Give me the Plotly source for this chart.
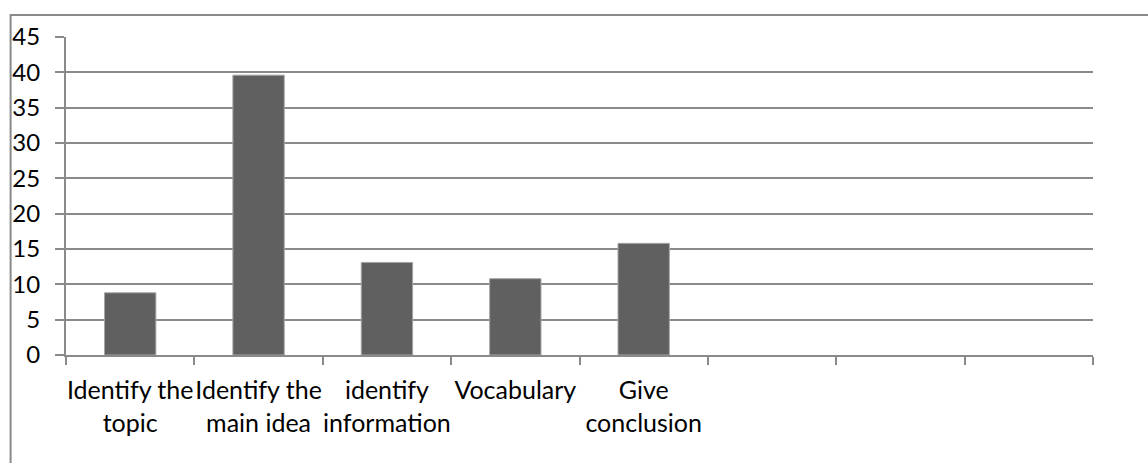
import plotly.graph_objects as go

# Skill categories (the last three slots are empty on the axis)
categories = ["Identify the<br>topic", "Identify the<br>main idea", "identify<br>information",
              "Vocabulary", "Give<br>conclusion", " ", "  ", "   "]
scores = [8.8, 39.6, 13.1, 10.8, 15.8, None, None, None]
y_ticks = [0, 5, 10, 15, 20, 25, 30, 35, 40, 45]

W, H = 1148, 463
L, R, T, B = 64, 55, 36.5, 107.5
pw, ph = W - L - R, H - T - B

grid = "#8a8a8a"
font = dict(family="Lato, Carlito, Calibri, sans-serif", size=24, color="#000000")

fig = go.Figure(go.Bar(
    x=categories, y=scores, width=0.4,
    marker=dict(color="#606060", line=dict(color="#a6a6a6", width=1)),
))

# Outer chart-area frame (runs past the right and bottom edges of the page)
def px_to_paper(x, y):
    return (x - L) / pw, (H - B - y) / ph

x0, y0 = px_to_paper(8.5, 14.5)
x1, y1 = px_to_paper(W + 10, H + 10)
fig.add_shape(type="rect", xref="paper", yref="paper", x0=x0, y0=y1, x1=x1, y1=y0,
              line=dict(color=grid, width=2), fillcolor="rgba(0,0,0,0)", layer="below")

fig.update_layout(
    width=W, height=H,
    margin=dict(l=L, r=R, t=T, b=B, pad=0),
    paper_bgcolor="white", plot_bgcolor="white",
    font=font, showlegend=False, bargap=0.6,
    xaxis=dict(type="category", categoryorder="array", categoryarray=categories,
               range=[-0.5, 7.5], tickson="boundaries", ticks="outside", ticklen=8,
               tickwidth=1.5, tickcolor=grid, showline=True, linecolor=grid, linewidth=2,
               showgrid=False, tickangle=0, ticklabelstandoff=12,
               tickfont=dict(size=25)),
    yaxis=dict(range=[0, 45], tickvals=y_ticks, ticks="outside", ticklen=9,
               tickwidth=2, tickcolor=grid, showline=True, linecolor=grid, linewidth=2,
               showgrid=True, gridcolor=grid, gridwidth=2, zeroline=False,
               ticklabelstandoff=10),
)

fig.write_html("out.html")
